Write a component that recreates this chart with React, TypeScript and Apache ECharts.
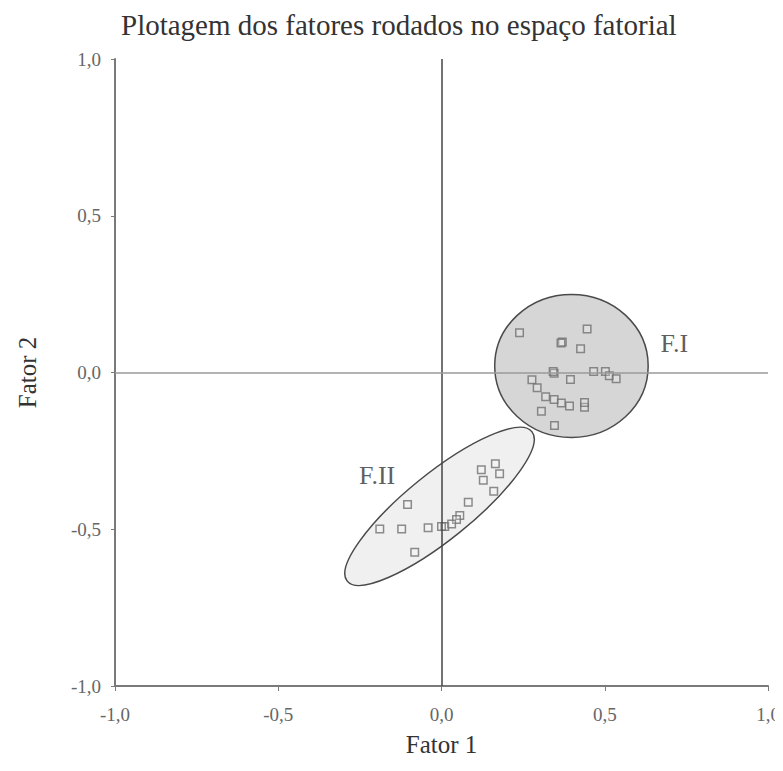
import React, { useEffect, useRef } from "react";
import * as echarts from "echarts";

const xTicks = [-1, -0.5, 0, 0.5, 1];
const yTicks = [-1, -0.5, 0, 0.5, 1];

// Factor loadings, group F.I
const fiPoints: [number, number][] = [
  [0.239, 0.127], [0.446, 0.139], [0.37, 0.097], [0.366, 0.094], [0.426, 0.076],
  [0.345, -0.002], [0.342, 0.003], [0.395, -0.022], [0.466, 0.003], [0.502, 0.003],
  [0.514, -0.01], [0.535, -0.02], [0.277, -0.023], [0.293, -0.049], [0.319, -0.077],
  [0.345, -0.086], [0.367, -0.097], [0.392, -0.107], [0.438, -0.111], [0.438, -0.096],
  [0.306, -0.124], [0.346, -0.169],
];

// Factor loadings, group F.II
const fiiPoints: [number, number][] = [
  [0.122, -0.31], [0.165, -0.291], [0.178, -0.323], [0.128, -0.344], [0.16, -0.379],
  [-0.104, -0.421], [0.082, -0.414], [0.056, -0.456], [0.046, -0.469], [-0.189, -0.499],
  [-0.122, -0.499], [-0.041, -0.495], [0.01, -0.491], [0.0, -0.491], [0.031, -0.483],
  [-0.082, -0.573],
];

// Ellipses: [cx, cy, rx, ry, angleDeg]
const ellipses: [number, number, number, number, number][] = [
  [0.398, 0.021, 0.235, 0.228, 0],
  [-0.006, -0.427, 0.364, 0.105, 39],
];
const ellipseFills = ["#d6d6d6", "#f0f0f0"];

const groupLabels = ["F.I", "F.II"];
const groupLabelPos: [number, number][] = [
  [0.713, 0.093],
  [-0.197, -0.329],
];

const fmt = (v: number) => v.toFixed(1).replace(".", ",");

export default function App() {
  const ref = useRef<HTMLDivElement>(null);
  useEffect(() => {
    if (!ref.current) return;
    const chart = echarts.init(ref.current, null, { renderer: "svg" });
    const serif = "Liberation Serif";
    chart.setOption({
      animation: false,
      backgroundColor: "#ffffff",
      title: {
        text: "Plotagem dos fatores rodados no espaço fatorial",
        left: 116,
        top: 5,
        textStyle: { fontFamily: serif, fontSize: 29, fontWeight: "normal", color: "#333" },
      },
      grid: { left: 115, right: 15, top: 59, bottom: 85 },
      xAxis: {
        type: "value",
        min: -1,
        max: 1,
        interval: 0.5,
        name: "Fator 1",
        nameLocation: "middle",
        nameGap: 46,
        nameTextStyle: { fontFamily: serif, fontSize: 25, color: "#333" },
        axisLine: { onZero: false, lineStyle: { color: "#7a7a7a", width: 2 } },
        axisTick: { show: true, length: 5, lineStyle: { color: "#7a7a7a" } },
        axisLabel: {
          formatter: fmt,
          margin: 19,
          fontFamily: serif,
          fontSize: 19,
          color: "#666",
        },
        splitLine: { show: false },
      },
      yAxis: {
        type: "value",
        min: -1,
        max: 1,
        interval: 0.5,
        name: "Fator 2",
        nameLocation: "middle",
        nameGap: 75,
        nameTextStyle: { fontFamily: serif, fontSize: 25, color: "#333" },
        axisLine: { onZero: false, lineStyle: { color: "#7a7a7a", width: 2 } },
        axisTick: { show: true, length: 4, lineStyle: { color: "#7a7a7a" } },
        axisLabel: {
          formatter: fmt,
          margin: 14,
          fontFamily: serif,
          fontSize: 19,
          color: "#666",
        },
        splitLine: { show: false },
      },
      series: [
        {
          type: "scatter",
          data: [],
          z: 1,
          silent: true,
          markLine: {
            symbol: "none",
            silent: true,
            label: { show: false },
            data: [
              { xAxis: 0, lineStyle: { color: "#444", width: 1.5, type: "solid" } },
              { yAxis: 0, lineStyle: { color: "#9a9a9a", width: 1.5, type: "solid" } },
            ],
          },
        },
        {
          type: "custom",
          z: 2,
          silent: true,
          data: ellipses.map((e, i) => [...e, i]),
          renderItem: (params: any, api: any) => {
            const cx = api.value(0);
            const cy = api.value(1);
            const rx = api.value(2);
            const ry = api.value(3);
            const ang = api.value(4);
            const idx = api.value(5);
            const c = api.coord([cx, cy]);
            const s = api.size([rx, ry]);
            return {
              type: "ellipse",
              x: c[0],
              y: c[1],
              rotation: (ang * Math.PI) / 180,
              shape: { cx: 0, cy: 0, rx: s[0], ry: s[1] },
              style: { fill: ellipseFills[idx], stroke: "#4a4a4a", lineWidth: 1.5 },
            };
          },
        },
        {
          type: "scatter",
          z: 3,
          data: fiPoints,
          symbol: "rect",
          symbolSize: 7.5,
          itemStyle: { color: "rgba(255,255,255,0.25)", borderColor: "#707070", borderWidth: 1.5 },
        },
        {
          type: "scatter",
          z: 3,
          data: fiiPoints,
          symbol: "rect",
          symbolSize: 7.5,
          itemStyle: { color: "rgba(255,255,255,0.25)", borderColor: "#707070", borderWidth: 1.5 },
        },
        {
          type: "scatter",
          z: 4,
          symbolSize: 0,
          data: groupLabelPos.map((p, i) => ({ value: p, name: groupLabels[i] })),
          label: {
            show: true,
            position: "inside",
            formatter: (p: any) => p.name,
            fontFamily: serif,
            fontSize: 26,
            color: "#333",
          },
        },
      ],
    });
    return () => chart.dispose();
  }, []);
  return <div ref={ref} style={{ width: 783, height: 771, margin: -8 }} />;
}
